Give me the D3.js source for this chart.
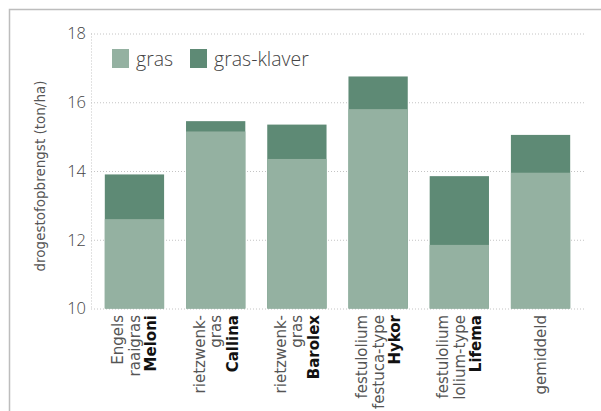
<!DOCTYPE html>
<html>
<head>
<meta charset="utf-8">
<script src="https://cdn.jsdelivr.net/npm/d3@7"></script>
<style>
  body { margin: 0; background: #fff; }
  svg text { font-family: "Open Sans", sans-serif; }
  svg text.wide { font-family: "DejaVu Sans", sans-serif; }
</style>
</head>
<body>
<div id="chart"></div>
<script>
'use strict';

// ---- data ----
const categories = ['meloni', 'callina', 'barolex', 'hykor', 'lifema', 'gemiddeld'];
const labelLines = [
  ['Engels', 'raaigras', 'Meloni'],
  ['rietzwenk-', 'gras', 'Callina'],
  ['rietzwenk-', 'gras', 'Barolex'],
  ['festulolium', 'festuca-type', 'Hykor'],
  ['festulolium', 'lolium-type', 'Lifema'],
  ['gemiddeld']
];
const boldLast = [true, true, true, true, true, false];
const grasValues = [12.6, 15.15, 14.35, 15.8, 11.85, 13.95];
const grasKlaverValues = [13.9, 15.45, 15.35, 16.75, 13.85, 15.05];
const yTicks = [10, 12, 14, 16, 18];
const seriesNames = ['gras', 'gras-klaver'];

const colors = { gras: '#94b1a1', klaver: '#5e8a75' };

const width = 601, height = 411;
const svg = d3.select('#chart').append('svg')
  .attr('width', width)
  .attr('height', height);

// frame (cropped at right/bottom)
svg.append('rect')
  .attr('x', 9.5).attr('y', 9.5)
  .attr('width', 640).attr('height', 440)
  .attr('fill', 'none')
  .attr('stroke', '#bdbdbd')
  .attr('stroke-width', 1.5);

const x = d3.scaleBand()
  .domain(categories)
  .range([91, 584])
  .paddingInner(0.27)
  .paddingOuter(0.17);

const y = d3.scaleLinear()
  .domain([10, 18])
  .range([308.5, 33.5]);

// grid
const grid = svg.append('g')
  .attr('transform', 'translate(91,0)')
  .call(d3.axisLeft(y).tickValues(yTicks).tickSize(-(584 - 91)).tickFormat(''));
grid.select('.domain').remove();
grid.selectAll('.tick line')
  .attr('stroke', '#c4c4c4')
  .attr('stroke-dasharray', '1,2');

// dotted y axis line
svg.append('line')
  .attr('x1', 91.5).attr('x2', 91.5)
  .attr('y1', y(18)).attr('y2', y(10))
  .attr('stroke', '#c4c4c4')
  .attr('stroke-dasharray', '1,2');

// y tick labels
svg.append('g').selectAll('text')
  .data(yTicks)
  .join('text')
  .attr('x', 86)
  .attr('y', d => y(d))
  .attr('dy', '0.36em')
  .attr('text-anchor', 'end')
  .attr('font-size', 16.5)
  .attr('font-weight', 300)
  .attr('fill', '#444')
  .text(d => d);

// y title
svg.append('text')
  .attr('class', 'wide')
  .attr('transform', `translate(45,${(y(10) + y(18)) / 2 + 5}) rotate(-90)`)
  .attr('text-anchor', 'middle')
  .attr('font-size', 13.5)
  .attr('fill', '#555')
  .text('drogestofopbrengst (ton/ha)');

// bars: gras-klaver behind, gras in front
svg.append('g').selectAll('rect')
  .data(categories)
  .join('rect')
  .attr('x', d => x(d))
  .attr('width', x.bandwidth())
  .attr('y', (d, i) => y(grasKlaverValues[i]))
  .attr('height', (d, i) => y(10) - y(grasKlaverValues[i]))
  .attr('fill', colors.klaver);

svg.append('g').selectAll('rect')
  .data(categories)
  .join('rect')
  .attr('x', d => x(d))
  .attr('width', x.bandwidth())
  .attr('y', (d, i) => y(grasValues[i]))
  .attr('height', (d, i) => y(10) - y(grasValues[i]))
  .attr('fill', colors.gras);

// x labels, rotated
const lineGap = 16.5;
const labels = svg.append('g').selectAll('g')
  .data(categories)
  .join('g')
  .attr('transform', d => `translate(${x(d) + x.bandwidth() / 2},315) rotate(-90)`);

labels.each(function(d, i) {
  const lines = labelLines[i];
  const n = lines.length;
  d3.select(this).selectAll('text')
    .data(lines)
    .join('text')
    .attr('class', 'wide')
    .attr('x', 0)
    .attr('y', (t, j) => (j - (n - 1) / 2) * lineGap)
    .attr('dy', '0.36em')
    .attr('text-anchor', 'end')
    .attr('font-size', 15)
    .attr('font-weight', (t, j) => (boldLast[i] && j === n - 1) ? 700 : 400)
    .attr('fill', (t, j) => (boldLast[i] && j === n - 1) ? '#111' : '#555')
    .text(t => t);
});

// legend
const legend = svg.append('g').attr('transform', 'translate(112,49)');
const legendX = [0, 78];
legend.selectAll('rect')
  .data(seriesNames)
  .join('rect')
  .attr('x', (d, i) => legendX[i])
  .attr('y', 0)
  .attr('width', 17)
  .attr('height', 19)
  .attr('fill', (d, i) => i === 0 ? colors.gras : colors.klaver);
legend.selectAll('text')
  .data(seriesNames)
  .join('text')
  .attr('x', (d, i) => legendX[i] + 24)
  .attr('y', 17)
  .attr('font-size', 19.5)
  .attr('font-weight', 300)
  .attr('fill', '#444')
  .text(d => d);
</script>
</body>
</html>
